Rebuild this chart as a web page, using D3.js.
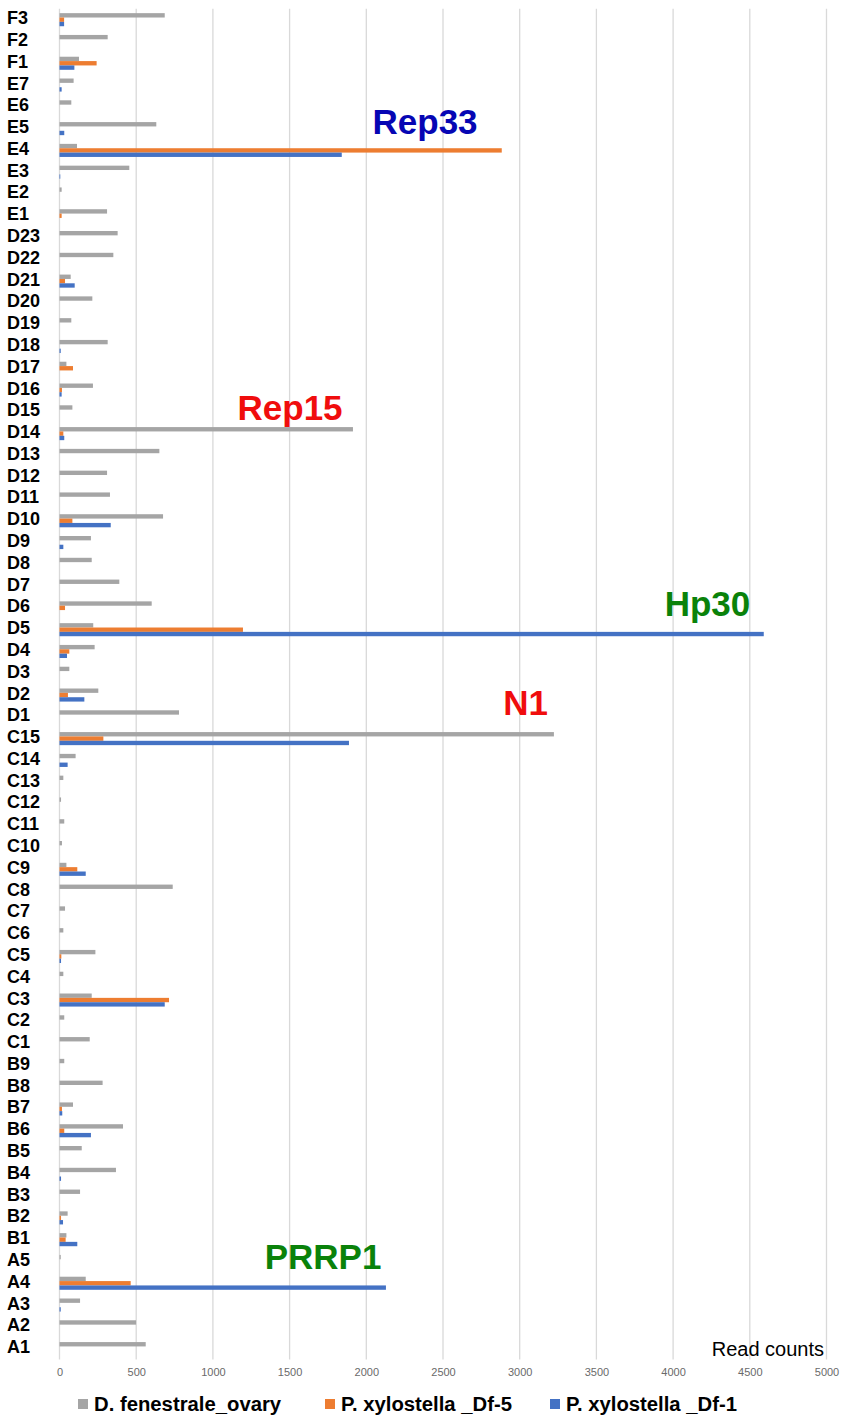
<!DOCTYPE html>
<html><head><meta charset="utf-8">
<script src="https://cdn.jsdelivr.net/npm/d3@7/dist/d3.min.js"></script>
<style>
body{margin:0;background:#fff;}
svg{display:block;font-family:Arial,"Liberation Sans",sans-serif;}
</style></head>
<body><svg id="chart" width="851" height="1422"></svg>
<script>
const categories = ["F3","F2","F1","E7","E6","E5","E4","E3","E2","E1","D23","D22","D21","D20","D19","D18","D17","D16","D15","D14","D13","D12","D11","D10","D9","D8","D7","D6","D5","D4","D3","D2","D1","C15","C14","C13","C12","C11","C10","C9","C8","C7","C6","C5","C4","C3","C2","C1","B9","B8","B7","B6","B5","B4","B3","B2","B1","A5","A4","A3","A2","A1"];
const ovary = [686,314,127,92,77,631,114,455,14,310,379,351,73,214,77,314,45,218,84,1913,651,310,329,675,205,210,390,601,220,229,64,253,779,3223,105,25,10,31,16,45,738,36,25,234,25,210,31,197,31,281,88,414,145,368,134,53,45,8,171,134,499,562];
const df5 = [30,0,242,0,0,0,2883,0,0,14,0,0,36,0,0,0,88,16,0,25,0,0,0,84,0,0,0,36,1196,64,0,55,0,286,0,0,0,0,0,116,0,0,0,12,0,714,0,0,0,0,16,31,0,0,0,10,40,0,464,0,0,0];
const df1 = [30,0,97,14,0,31,1840,5,0,0,0,0,99,0,0,8,0,14,0,31,0,0,0,334,25,0,0,0,4591,49,0,162,0,1887,53,0,0,0,0,171,0,0,0,10,0,686,0,0,0,0,18,205,0,10,0,23,116,0,2128,8,0,0];
const seriesNames = ["D. fenestrale_ovary","P. xylostella _Df-5","P. xylostella _Df-1"];
const seriesColors = ["#a5a5a5","#ed7d31","#4472c4"];
const ticks = [0,500,1000,1500,2000,2500,3000,3500,4000,4500,5000];
const annotations = [
  {text:"Rep33", cat:"E4", color:"#0606b4"},
  {text:"Rep15", cat:"D14", color:"#f00d0d"},
  {text:"Hp30", cat:"D5", color:"#0a820a"},
  {text:"N1", cat:"C15", color:"#f00d0d"},
  {text:"PRRP1", cat:"A4", color:"#0a820a"}
];
const annotX = {Rep33:2383, Rep15:1503, Hp30:4224, N1:3038, PRRP1:1718};
const annotDy = {Rep33:-10, Rep15:-7, Hp30:-7, N1:-17, PRRP1:-8};

const svg = d3.select("#chart");
const plotL = 59.5, plotR = 826.5, plotT = 8.8, plotB = 1359.5;
const x = d3.scaleLinear().domain([0,5000]).range([plotL,plotR]);
const y = d3.scaleBand().domain(categories).range([plotT,plotB]).paddingInner(0.4).paddingOuter(0.2);
const allSeries = [ovary, df5, df1];
const inner = d3.scaleBand().domain([0,1,2]).range([0,y.bandwidth()]);

// gridlines
svg.append("g").selectAll("line").data(ticks).join("line")
  .attr("x1",d=>x(d)).attr("x2",d=>x(d))
  .attr("y1",plotT).attr("y2",plotB)
  .attr("stroke","#d9d9d9").attr("stroke-width",1.3);

// bars
allSeries.forEach((vals,si)=>{
  svg.append("g").selectAll("rect").data(categories).join("rect")
    .attr("x",x(0))
    .attr("y",(c)=>y(c)+inner(si))
    .attr("height",inner.bandwidth())
    .attr("width",(c,i)=>x(vals[i])-x(0))
    .attr("fill",seriesColors[si]);
});

// category labels
svg.append("g").selectAll("text").data(categories).join("text")
  .attr("x",7).attr("y",c=>y(c)+y.bandwidth()/2 - 2)
  .attr("dy","0.36em")
  .attr("font-size",18).attr("font-weight","bold").attr("fill","#000")
  .text(d=>d);

// x tick labels
const xAxis = d3.axisBottom(x).tickValues(ticks).tickFormat(d3.format("d")).tickSize(0).tickPadding(0);
const gx = svg.append("g").attr("transform",`translate(0,1368)`).call(xAxis);
gx.select(".domain").remove();
gx.selectAll("text").attr("font-size",11).attr("fill","#6a6a6a").attr("font-family","Arial,'Liberation Sans',sans-serif");

// axis title
svg.append("text").attr("x",824).attr("y",1356).attr("text-anchor","end")
  .attr("font-size",20).attr("fill","#000").text("Read counts");

// annotations
annotations.forEach(a=>{
  svg.append("text").attr("x",x(annotX[a.text])).attr("y",y(a.cat)+annotDy[a.text])
    .attr("text-anchor","middle").attr("font-size",35).attr("font-weight","bold")
    .attr("fill",a.color).text(a.text);
});

// legend
const legendX = [78, 325, 550];
seriesNames.forEach((n,i)=>{
  svg.append("rect").attr("x",legendX[i]).attr("y",1399).attr("width",10).attr("height",10).attr("fill",seriesColors[i]);
  svg.append("text").attr("x",legendX[i]+16).attr("y",1411).attr("font-size",20.3).attr("font-weight","bold").attr("fill","#000").text(n);
});
</script></body></html>
